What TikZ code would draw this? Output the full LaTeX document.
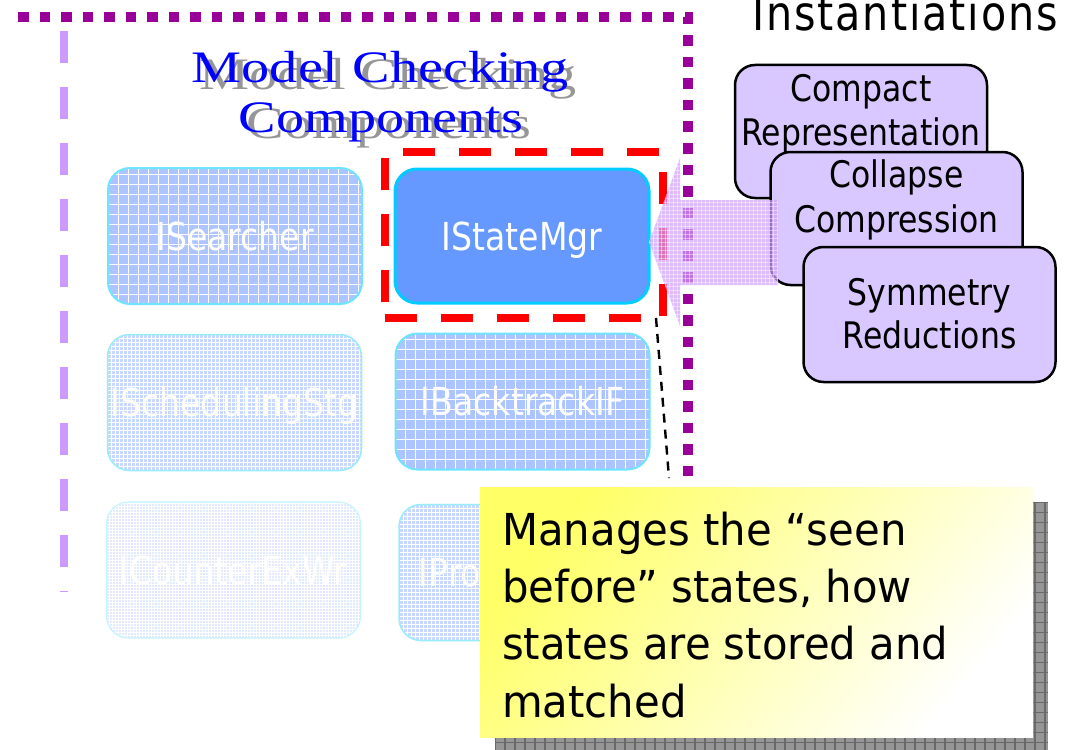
\documentclass[tikz,border=0pt]{standalone}
\usepackage{graphicx}
\usepackage{fontspec}
\newfontfamily\tah{DejaVu Sans}[FakeStretch=0.86]
\newfontfamily\notefont{DejaVu Sans}[FakeStretch=0.95]
\newfontfamily\headfont{DejaVu Sans}[FakeStretch=0.86,LetterSpace=4]
\newfontfamily\titlefont{Liberation Serif}

\definecolor{plum}{RGB}{153,0,153}
\definecolor{lilac}{RGB}{204,153,255}
\definecolor{arrowfill}{RGB}{210,160,255}
\definecolor{lavfill}{RGB}{216,200,255}
\definecolor{cornblue}{RGB}{102,153,255}
\definecolor{cyanedge}{RGB}{0,204,255}
\definecolor{paleedge}{RGB}{110,228,255}
\definecolor{fadeA}{RGB}{172,196,255}
\definecolor{fadeB}{RGB}{200,216,255}
\definecolor{fadeC}{RGB}{226,234,255}
\definecolor{notey}{RGB}{255,255,102}
\definecolor{notepale}{RGB}{255,255,190}
\definecolor{shadowgray}{RGB}{150,150,150}
\definecolor{shadowline}{RGB}{105,105,105}
\definecolor{titleblue}{RGB}{0,0,255}

\tikzset{
  gridfill/.style={path picture={
    \foreach \k in {0,#1,...,280}{
      \draw[white, line width=0.8pt]
        ([xshift=\k pt]path picture bounding box.south west) --
        ([xshift=\k pt]path picture bounding box.north west);
      \draw[white, line width=0.8pt]
        ([yshift=\k pt]path picture bounding box.south west) --
        ([yshift=\k pt]path picture bounding box.south east);
    }}},
  arrowgrid/.style={path picture={
    \foreach \k in {0,4,...,180}{
      \draw[white, line width=0.6pt, draw opacity=0.45]
        ([xshift=\k pt]path picture bounding box.south west) --
        ([xshift=\k pt]path picture bounding box.north west);
      \draw[white, line width=0.6pt, draw opacity=0.45]
        ([yshift=\k pt]path picture bounding box.south west) --
        ([yshift=\k pt]path picture bounding box.south east);
    }}},
  shadowgrid/.style={path picture={
    \foreach \k in {0,10,...,560}{
      \draw[shadowline, line width=1.2pt]
        ([xshift=\k pt]path picture bounding box.south west) --
        ([xshift=\k pt]path picture bounding box.north west);
      \draw[shadowline, line width=1.2pt]
        ([yshift=\k pt]path picture bounding box.south west) --
        ([yshift=\k pt]path picture bounding box.south east);
    }}},
  comp/.style={rounded corners=22pt, minimum width=254pt, minimum height=136pt,
    inner sep=0pt, outer sep=0pt, text=white,
    font=\tah\fontsize{38.5}{40}\selectfont, text height=28pt, text depth=0pt},
  faintA/.style={comp, fill=fadeA, draw=paleedge, line width=2pt, gridfill=10},
  faintB/.style={comp, fill=fadeB, draw=paleedge!70, line width=1.5pt, gridfill=4},
  faintC/.style={comp, fill=fadeC, draw=paleedge!40, line width=1.2pt, gridfill=3},
  active/.style={comp, fill=cornblue, draw=cyanedge, line width=3pt},
  inst/.style={draw=black, line width=2.5pt, fill=lavfill, rounded corners=20pt,
    minimum width=252pt, minimum height=133pt, outer sep=0pt, inner sep=0pt},
  insttext/.style={anchor=base, inner sep=0pt, font=\tah\fontsize{36.6}{40}\selectfont},
  notetext/.style={anchor=base west, inner sep=0pt, font=\notefont\fontsize{44}{50}\selectfont},
  headline/.style={anchor=base, inner sep=0pt, font=\titlefont\fontsize{45}{49}\selectfont},
  focusframe/.style={draw=red, line width=7.5pt, dash pattern=on 32pt off 24pt,
    minimum width=278pt, minimum height=166pt, inner sep=0pt, outer sep=0pt},
  leader/.style={black, line width=2.4pt, dash pattern=on 9pt off 7pt},
  notebox/.style={minimum width=553pt, minimum height=250pt, inner sep=0pt, outer sep=0pt},
}

\begin{document}
\begin{tikzpicture}[x=1pt, y=-1pt]
\useasboundingbox (0,0) rectangle (1078,749);
\fill[white] (0,0) rectangle (1078,749);

% frame lines
\draw[plum, line width=10pt, dash pattern=on 10.5pt off 11pt] (18,17.5) -- (688,17.5) -- (688,487);
\draw[lilac, line width=8pt, dash pattern=on 32pt off 24pt] (64,31) -- (64,592);

% heading with drop shadow
\node[headline, text=shadowgray] (shade1) at (388,90) {\scalebox{1.25}[1]{Model Checking}};
\node[headline, text=shadowgray] (shade2) at (389,139) {\scalebox{1.25}[1]{Components}};
\node[headline, text=titleblue] (title1) at (380,83) {\scalebox{1.25}[1]{Model Checking}};
\node[headline, text=titleblue] (title2) at (381,132) {\scalebox{1.25}[1]{Components}};

% component boxes
\node[faintA] (searcher) at (235,236) {ISearcher};
\node[active, minimum height=134pt] (statemgr) at (522,236) {IStateMgr};
\node[faintB] (scheduler) at (234.5,402.5) {ISchedulingStg};
\node[faintA] (backtrack) at (522.5,401.5) {IBacktrackIF};
\node[faintC] (cexwriter) at (233.5,570) {ICounterExWr};
\node[faintB] (progress) at (526,572.5) {IProgressMgr};

% highlight frame
\node[focusframe] (focus) at (524,235) {};

% instantiation boxes
\node[inst] (compact) at (861,131.5) {};
\node[insttext] (compactA) at ([yshift=-37pt]compact.north) {Compact};
\node[insttext] (compactB) at ([yshift=-80pt]compact.north) {Representation};
\node[inst] (collapse) at (896.5,218.5) {};
\node[insttext] (collapseA) at ([yshift=-35pt]collapse.north) {Collapse};
\node[insttext] (collapseB) at ([yshift=-80pt]collapse.north) {Compression};
\node[inst, minimum height=135pt] (symmetry) at (929.5,314.5) {};
\node[insttext] (symmetryA) at ([yshift=-58pt]symmetry.north) {Symmetry};
\node[insttext] (symmetryB) at ([yshift=-101pt]symmetry.north) {Reductions};

% block arrow into the state manager
\coordinate (tip) at ([yshift=-6pt]statemgr.east);
\path[fill=arrowfill, fill opacity=0.72, arrowgrid]
  (tip) -- ++(31,-84) -- ++(0,42) -- ++(98,0) -- ++(0,85) -- ++(-98,0) -- ++(0,41) -- cycle;

% leader to the note
\coordinate (leadtop) at ([xshift=-7pt]focus.south east);
\coordinate (leadend) at (669,478);
\draw[leader] (leadtop) -- (leadend);

% note with shadow
\node[notebox, fill=shadowgray, shadowgrid] (noteshadow) at (771.5,627.5) {};
\node[notebox, top color=notey, middle color=notepale, bottom color=white, shading angle=50] (note) at (756.5,612) {};
\node[notetext] (line1) at (502,545) {Manages the “seen};
\node[notetext] (line2) at (502,602) {before” states, how};
\node[notetext] (line3) at (502,659) {states are stored and};
\node[notetext] (line4) at (502,717) {matched};

% heading of the right column
\node[anchor=base, inner sep=0pt, font=\headfont\fontsize{48}{52}\selectfont] (insthead) at (905,31) {Instantiations};
\end{tikzpicture}
\end{document}
